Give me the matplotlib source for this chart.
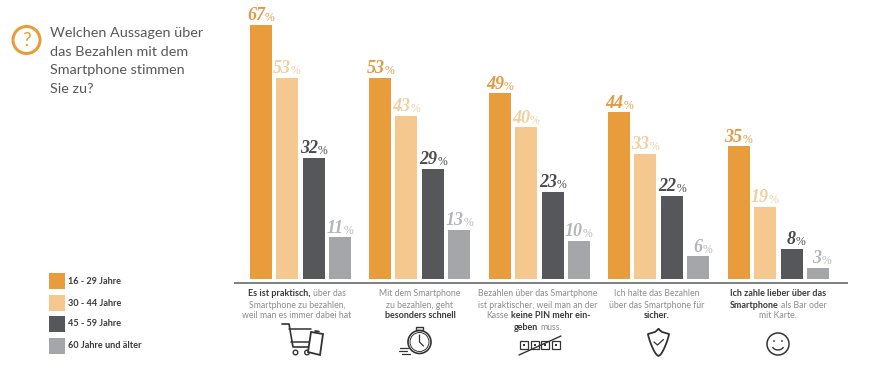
import matplotlib
matplotlib.use('Agg')
import matplotlib.pyplot as plt
from matplotlib.patches import Circle, Rectangle, Polygon, Arc
import numpy as np

# data
ages = ['16 - 29 Jahre', '30 - 44 Jahre', '45 - 59 Jahre', '60 Jahre und älter']
v_16_29 = [67, 53, 49, 44, 35]
v_30_44 = [53, 43, 40, 33, 19]
v_45_59 = [32, 29, 23, 22, 8]
v_60 = [11, 13, 10, 6, 3]
question = ['Welchen Aussagen über', 'das Bezahlen mit dem', 'Smartphone stimmen', 'Sie zu?']

# every caption line is a list of (text, bold) runs
captions = [
    [[('Es ist praktisch,', True), (' über das', False)],
     [('Smartphone zu bezahlen,', False)],
     [('weil man es immer dabei hat', False)]],
    [[('Mit dem Smartphone', False)],
     [('zu bezahlen, geht', False)],
     [('besonders schnell', True)]],
    [[('Bezahlen über das Smartphone', False)],
     [('ist praktischer, weil man an der', False)],
     [('Kasse ', False), ('keine PIN mehr ein-', True)],
     [('geben', True), (' muss.', False)]],
    [[('Ich halte das Bezahlen', False)],
     [('über das Smartphone für', False)],
     [('sicher.', True)]],
    [[('Ich zahle lieber über das', True)],
     [('Smartphone', True), (' als Bar oder', False)],
     [('mit Karte.', False)]],
]

colors = ['#E99C3C', '#F4C88F', '#56575A', '#A5A6AA']
label_colors = ['#E29A45', '#F2CFA0', '#4A4B4E', '#B4B5B8']
TXT = '#8C8C8C'
DARK = '#3A3A3C'
ICON = '#333333'
W, H = 869, 374

plt.rcParams['font.family'] = ['Lato', 'DejaVu Sans']
fig = plt.figure(figsize=(W / 100, H / 100), dpi=100)

# bars: x axis in pixels, y axis in percent, baseline at pixel row 279
ax = fig.add_axes([0, (H - 279) / H, 1, 279 / H])
ax.set_xlim(0, W)
ax.set_ylim(0, 279 / 3.79)
ax.axis('off')

# overlay in pixel coordinates for texts and icons
ov = fig.add_axes([0, 0, 1, 1])
ov.set_xlim(0, W)
ov.set_ylim(H, 0)
ov.axis('off')
ov.patch.set_alpha(0)

group_x = 250 + np.arange(5) * 119.4
offsets = [0, 26, 53, 79]
bar_w = 22
series = [v_16_29, v_30_44, v_45_59, v_60]
for s, vals in enumerate(series):
    xs = group_x + offsets[s]
    ax.bar(xs, vals, width=bar_w, align='edge', color=colors[s], linewidth=0)
    for x, v in zip(xs, vals):
        cx = x + 15
        ax.annotate(str(v), (cx, v), xytext=(0, 0.5), textcoords='offset points',
                    ha='right', va='bottom', fontsize=13, fontweight='bold',
                    style='italic', family='Liberation Serif', color=label_colors[s])
        ax.annotate('%', (cx, v), xytext=(0, 0.5), textcoords='offset points',
                    ha='left', va='bottom', fontsize=8.5, family='Liberation Serif',
                    color=label_colors[s])

ov.plot([234, 848], [282.5, 282.5], color='#6A6A6A', lw=1.2, solid_capstyle='butt')

# question block
ov.add_patch(Circle((26.5, 40), 13.5, fill=False, ec=colors[0], lw=2.2))
ov.text(26.5, 40.5, '?', ha='center', va='center', fontsize=14, color=colors[0])
for i, line_txt in enumerate(question):
    ov.text(49.5, 33 + i * 18.7, line_txt, va='center', fontsize=10.4, color='#58585A')

# legend
leg_y = [273, 295, 316, 338]
for c, y, lab in zip(colors, leg_y, ages):
    ov.add_patch(Rectangle((49, y), 16, 16, fc=c, ec='none'))
    ov.text(68.5, y + 8, lab, va='center', fontsize=6.6, fontweight='bold', color=DARK)

# captions with mixed weights
fig.canvas.draw()
rend = fig.canvas.get_renderer()
cap_cx = [297, 420, 538, 657, 778]
for cx, cap in zip(cap_cx, captions):
    for i, runs in enumerate(cap):
        y = 294 + i * 11
        parts = []
        total = 0
        for s, bold in runs:
            t = ov.text(0, y, s.strip(), va='center', fontsize=6.5 if bold else 6.3,
                        fontweight='bold' if bold else 'normal',
                        color=DARK if bold else TXT)
            w = t.get_window_extent(rend).width
            parts.append((t, w))
            total += w
        total += 2.4 * (len(parts) - 1)
        x = cx - total / 2
        for t, w in parts:
            t.set_x(x)
            x += w + 2.4


def line(xs, ys, lw=1.0, color=ICON):
    ov.plot(xs, ys, color=color, lw=lw, solid_capstyle='round', solid_joinstyle='round')


# cart + phone
line([282, 289, 293, 297, 312], [324, 324, 347, 347, 347], 1.2)
line([289, 291, 311], [329, 329, 329], 1.1)
line([291, 294, 310], [342, 342, 342], 1.1)
ov.add_patch(Circle((295.5, 352.5), 2.3, fill=False, ec=ICON, lw=1))
ov.add_patch(Circle((307, 352.5), 2.3, fill=False, ec=ICON, lw=1))
ov.add_patch(Polygon([[311, 332], [323, 334], [320, 355], [308, 352]], closed=True,
                     fc='white', ec=ICON, lw=1.3, zorder=3))
line([315, 319], [331, 331.5], 1.2)

# stopwatch
ov.add_patch(Circle((419.5, 342), 11.5, fill=False, ec=ICON, lw=1.2))
ov.add_patch(Circle((419.5, 342), 9.5, fill=False, ec=ICON, lw=0.7))
ov.add_patch(Rectangle((416, 327), 7, 3, fill=False, ec=ICON, lw=1))
line([419.5, 419.5, 423.5], [335, 342, 346], 0.9)
line([400, 408], [348, 348], 0.9)
line([399, 407], [351, 351], 0.9)
line([402, 410], [354, 354], 0.9)

# PIN boxes with strike
for bx in [520, 530.5, 541, 551.5]:
    ov.add_patch(Rectangle((bx, 341), 8, 8, fill=False, ec=ICON, lw=0.9))
    ov.add_patch(Rectangle((bx + 3, 344), 2, 2, fc=ICON, ec='none'))
line([519, 561], [355, 336], 1.0)

# shield
t = np.linspace(0, 1, 30)
sx = 658.5 + 10.5 * np.cos(t * np.pi / 2) ** 0.6
sy = 334 + 22 * t ** 1.6
shield_x = np.r_[658.5, 662, 669, sx, 658.5 - (sx - 658.5)[::-1], 648, 655, 658.5]
shield_y = np.r_[329, 332, 334, sy, sy[::-1], 334, 332, 329]
line(shield_x, shield_y, 1.3)
line([654, 657.5, 663.5], [342, 345, 339.5], 0.9)

# smiley
ov.add_patch(Circle((778, 344), 11, fill=False, ec=ICON, lw=1.1))
ov.add_patch(Circle((774, 341), 0.9, fc=ICON, ec='none'))
ov.add_patch(Circle((782, 341), 0.9, fc=ICON, ec='none'))
ov.add_patch(Arc((778, 345), 12, 10, theta1=20, theta2=160, ec=ICON, lw=1))

fig.savefig('out.png', dpi=100)
